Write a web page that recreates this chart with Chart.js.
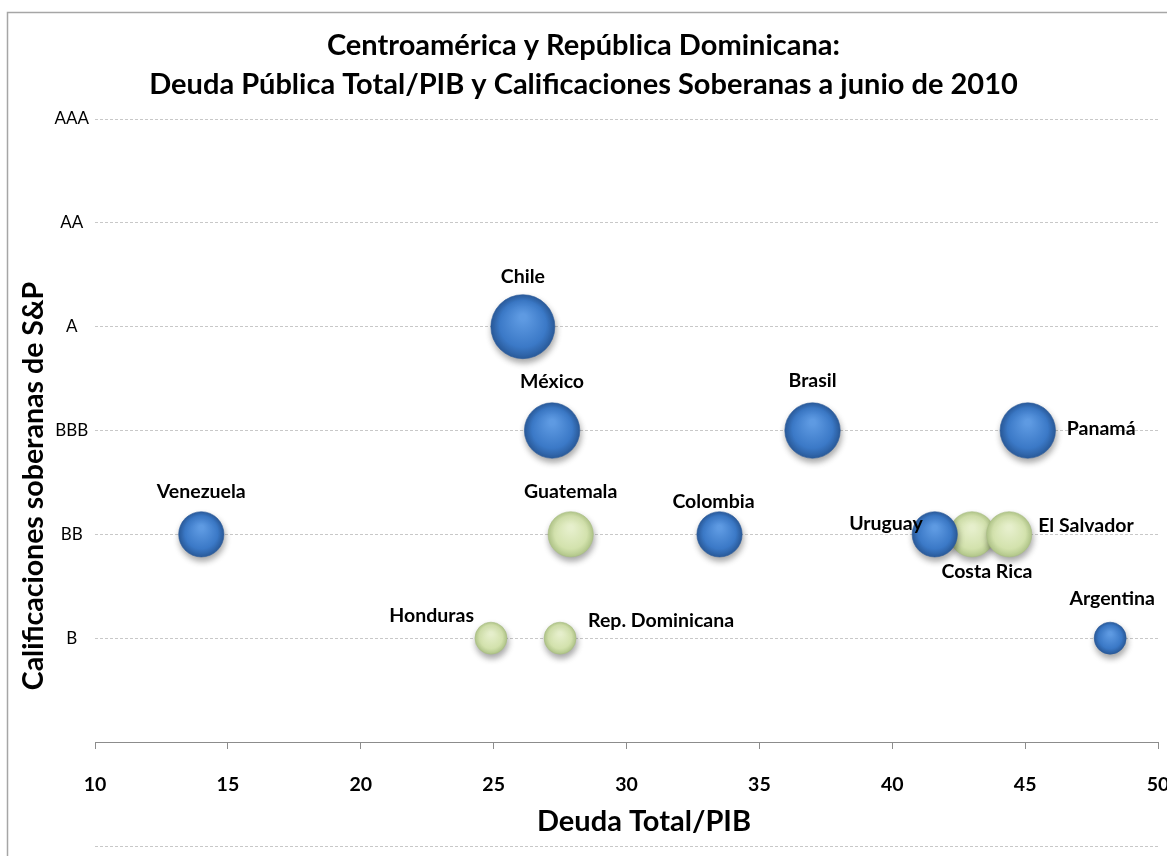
<!DOCTYPE html>
<html><head><meta charset="utf-8">
<script src="https://cdn.jsdelivr.net/npm/chart.js@4.4.0/dist/chart.umd.min.js"></script>
<style>html,body{margin:0;padding:0;background:#fff;}</style>
</head><body>
<canvas id="c" width="1167" height="856"></canvas>
<script>
// ---- data ----
const titleLines = ['Centroamérica y República Dominicana:', 'Deuda Pública Total/PIB y Calificaciones Soberanas a junio de 2010'];
const xTitle = 'Deuda Total/PIB';
const yTitle = 'Calificaciones soberanas de S&P';
const ratingLabels = ['', 'B', 'BB', 'BBB', 'A', 'AA', 'AAA'];
const xMin = 10, xMax = 50, xStep = 5;

const countriesBlue = ['Venezuela', 'Chile', 'México', 'Brasil', 'Panamá', 'Colombia', 'Uruguay', 'Argentina'];
const debtBlue      = [14.0, 26.1, 27.2, 37.0, 45.1, 33.5, 41.6, 48.2];
const ratingBlue    = [2, 4, 3, 3, 3, 2, 2, 1];
const sizeBlue      = [2, 4, 3, 3, 3, 2, 2, 1];

const countriesGreen = ['Guatemala', 'Honduras', 'Rep. Dominicana', 'Costa Rica', 'El Salvador'];
const debtGreen      = [27.9, 24.9, 27.5, 43.0, 44.4];
const ratingGreen    = [2, 1, 1, 2, 2];
const sizeGreen      = [2, 1, 1, 2, 2];

// ---- label placement (align, dx, dy from bubble centre) ----
const labelPlace = {
  'Venezuela': ['center', 0, -43], 'Chile': ['center', 0, -50], 'México': ['center', 0, -49],
  'Brasil': ['center', 0, -50], 'Panamá': ['left', 39, -2], 'Colombia': ['center', -6, -33],
  'Uruguay': ['right', -12, -11], 'Argentina': ['center', 2, -39], 'Guatemala': ['center', 0, -43],
  'Honduras': ['right', -17, -22], 'Rep. Dominicana': ['left', 28, -17], 'Costa Rica': ['center', 15, 37],
  'El Salvador': ['left', 29, -9]
};

const FONT = "Lato, 'Open Sans', sans-serif";
const R_UNIT = 16;

function pts(xs, ys, ss, names) {
  return xs.map((x, i) => ({ x: x, y: ys[i], r: R_UNIT * Math.sqrt(ss[i]), name: names[i] }));
}

function bubbleFill(stops) {
  return function (ctx) {
    const chart = ctx.chart;
    const raw = ctx.raw;
    if (!raw || !chart.scales.x || !chart.chartArea) return stops[1];
    const cx = chart.scales.x.getPixelForValue(raw.x);
    const cy = chart.scales.y.getPixelForValue(raw.y);
    const r = raw.r;
    if (!isFinite(cx) || !isFinite(cy)) return stops[1];
    const g = chart.ctx.createRadialGradient(cx, cy - r * 0.3, r * 0.1, cx, cy, r);
    g.addColorStop(0, stops[0]);
    g.addColorStop(0.7, stops[1]);
    g.addColorStop(1, stops[2]);
    return g;
  };
}

const decor = {
  id: 'decor',
  beforeDraw(chart) {
    const ctx = chart.ctx;
    ctx.save();
    ctx.fillStyle = '#fff';
    ctx.fillRect(0, 0, chart.width, chart.height);
    ctx.strokeStyle = '#a6a6a6';
    ctx.lineWidth = 1.5;
    ctx.strokeRect(7.5, 12.5, chart.width + 50, chart.height + 50);
    ctx.restore();
  },
  beforeDatasetsDraw(chart) {
    const ctx = chart.ctx;
    ctx.save();
    ctx.shadowColor = 'rgba(0,0,0,0.35)';
    ctx.shadowBlur = 6;
    ctx.shadowOffsetY = 4;
    ctx.shadowOffsetX = 1;
  },
  afterDatasetsDraw(chart) {
    chart.ctx.restore();
  },
  afterDraw(chart) {
    const ctx = chart.ctx;
    const ys = chart.scales.y;
    const area = chart.chartArea;
    ctx.save();
    // extra dashed gridline below the axis
    const yb = Math.round(ys.getPixelForValue(-1)) + 0.5;
    ctx.strokeStyle = '#c8c8c8';
    ctx.lineWidth = 1;
    ctx.setLineDash([3, 2]);
    ctx.beginPath(); ctx.moveTo(area.left, yb); ctx.lineTo(area.right, yb); ctx.stroke();
    ctx.setLineDash([]);
    // title
    ctx.fillStyle = '#000';
    ctx.textAlign = 'center';
    ctx.textBaseline = 'middle';
    ctx.font = 'bold 29px ' + FONT;
    ctx.fillText(titleLines[0], chart.width / 2, 46);
    ctx.fillText(titleLines[1], chart.width / 2, 85);
    // x title
    ctx.font = 'bold 29px ' + FONT;
    ctx.fillText(xTitle, 644, 822);
    // y title
    ctx.save();
    ctx.translate(34, 486);
    ctx.rotate(-Math.PI / 2);
    ctx.font = 'bold 28.5px ' + FONT;
    ctx.fillText(yTitle, 0, 0);
    ctx.restore();
    // data labels
    ctx.font = 'bold 19.5px ' + FONT;
    chart.data.datasets.forEach((ds, di) => {
      const meta = chart.getDatasetMeta(di);
      meta.data.forEach((el, i) => {
        const name = ds.data[i].name;
        const p = labelPlace[name] || ['center', 0, -40];
        ctx.textAlign = p[0];
        ctx.fillText(name, el.x + p[1], el.y + p[2]);
      });
    });
    ctx.restore();
  }
};

new Chart(document.getElementById('c'), {
  type: 'bubble',
  data: {
    datasets: [
      {
        label: 'Otros',
        data: pts(debtBlue, ratingBlue, sizeBlue, countriesBlue),
        backgroundColor: bubbleFill(['#5e9ae2', '#3b79c7', '#2a5b9b']),
        borderColor: '#2d5d9c',
        borderWidth: 0.6,
        hoverBorderWidth: 0.6
      },
      {
        label: 'Centroamérica',
        data: pts(debtGreen, ratingGreen, sizeGreen, countriesGreen),
        backgroundColor: bubbleFill(['#e6efcc', '#d3e2ad', '#b2c78a']),
        borderColor: '#a9bd84',
        borderWidth: 0.6,
        hoverBorderWidth: 0.6
      }
    ]
  },
  options: {
    responsive: false,
    animation: false,
    events: [],
    layout: { autoPadding: false, padding: { left: 12, right: 9, top: 119, bottom: 0 } },
    plugins: { legend: { display: false }, tooltip: { enabled: false }, title: { display: false } },
    scales: {
      x: {
        type: 'linear', position: 'bottom', min: xMin, max: xMax,
        ticks: { stepSize: xStep, color: '#000', font: { family: FONT, size: 19.5, weight: 'bold' }, padding: 24, maxRotation: 0, autoSkip: false },
        grid: { drawOnChartArea: false, drawTicks: true, tickLength: 7, color: '#8c8c8c', tickColor: '#8c8c8c' },
        border: { display: true, color: '#8c8c8c', width: 1 },
        afterFit(s) { s.height = 114; s.paddingLeft = 0; s.paddingRight = 0; }
      },
      y: {
        type: 'linear', min: 0, max: 6,
        ticks: { stepSize: 1, color: '#000', font: { family: FONT, size: 17 }, crossAlign: 'center', padding: 6,
                 callback: (v) => ratingLabels[v] || '' },
        grid: { drawTicks: false, color: (c) => (c.tick && c.tick.value === 0) ? 'rgba(0,0,0,0)' : '#c8c8c8', lineWidth: 1 },
        border: { display: false, dash: [3, 2] },
        afterFit(s) { s.width = 83; s.paddingTop = 0; s.paddingBottom = 0; }
      }
    }
  },
  plugins: [decor]
});
</script>
</body></html>
